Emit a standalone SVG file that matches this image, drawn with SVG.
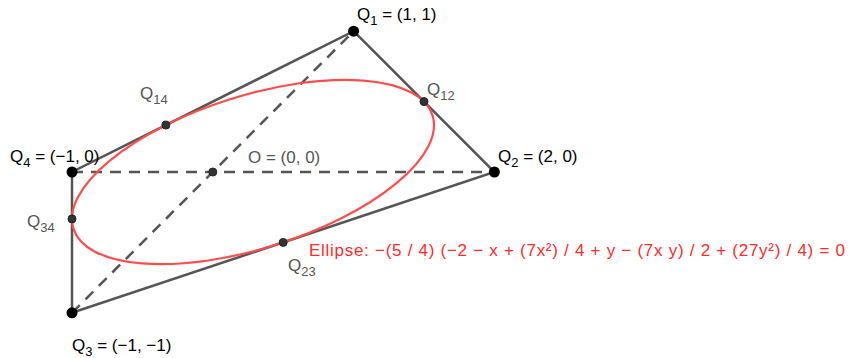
<svg xmlns="http://www.w3.org/2000/svg" width="849" height="358" viewBox="0 0 849 358">
<style>
.edge{stroke:#555;stroke-width:2.5;fill:none;stroke-linecap:round}
.dash{stroke:#555;stroke-width:2.5;fill:none;stroke-dasharray:11 8}
.ell{stroke:#ff4d4d;stroke-width:2.2;fill:none}
.big{fill:#000}
.small{fill:#333;stroke:#222;stroke-width:1}
text{font-family:"Liberation Sans",Arial,sans-serif;font-size:17px}
.lab{fill:#000}
.glab{fill:#555}
.rlab{fill:#ff2a2a}
.sub{font-size:13px}
</style>
<rect width="849" height="358" fill="#fff"/>
<g id="connectors">
<line class="dash" x1="72" y1="172" x2="494.4" y2="172"/>
<line class="dash" x1="72" y1="312.8" x2="353.6" y2="31.2"/>
<polygon class="edge" points="353.6,31.2 494.4,172 72,312.8 72,172"/>
</g>
<g id="ellipse">
<ellipse class="ell" cx="0" cy="0" rx="188.28" ry="76.28" transform="translate(253,172) rotate(-17.497)"/>
<text class="rlab" x="309" y="256" textLength="536" lengthAdjust="spacing">Ellipse: −(5 / 4) (−2 − x + (7x²) / 4 + y − (7x y) / 2 + (27y²) / 4) = 0</text>
</g>
<g id="Q1">
<circle class="big" cx="353.6" cy="31.2" r="5.5"/>
<text class="lab" x="357" y="20">Q<tspan class="sub" dy="5">1</tspan><tspan dy="-5"> = (1, 1)</tspan></text>
</g>
<g id="Q2">
<circle class="big" cx="494.4" cy="172" r="5.5"/>
<text class="lab" x="498" y="162">Q<tspan class="sub" dy="5">2</tspan><tspan dy="-5"> = (2, 0)</tspan></text>
</g>
<g id="Q3">
<circle class="big" cx="72" cy="312.8" r="5.5"/>
<text class="lab" x="72" y="351">Q<tspan class="sub" dy="5">3</tspan><tspan dy="-5"> = (−1, −1)</tspan></text>
</g>
<g id="Q4">
<circle class="big" cx="72" cy="172" r="5.5"/>
<text class="lab" x="10" y="162">Q<tspan class="sub" dy="5">4</tspan><tspan dy="-5"> = (−1, 0)</tspan></text>
</g>
<g id="O">
<circle class="small" cx="212.8" cy="172" r="4"/>
<text class="glab" x="248" y="163">O = (0, 0)</text>
</g>
<g id="Q12">
<circle class="small" cx="424" cy="101.6" r="4"/>
<text class="glab" x="427" y="95">Q<tspan class="sub" dy="5">12</tspan></text>
</g>
<g id="Q14">
<circle class="small" cx="165.9" cy="125.1" r="4"/>
<text class="glab" x="140" y="99">Q<tspan class="sub" dy="5">14</tspan></text>
</g>
<g id="Q23">
<circle class="small" cx="283.2" cy="242.4" r="4"/>
<text class="glab" x="288" y="271">Q<tspan class="sub" dy="5">23</tspan></text>
</g>
<g id="Q34">
<circle class="small" cx="72" cy="218.9" r="4"/>
<text class="glab" x="27" y="227">Q<tspan class="sub" dy="5">34</tspan></text>
</g>
</svg>
